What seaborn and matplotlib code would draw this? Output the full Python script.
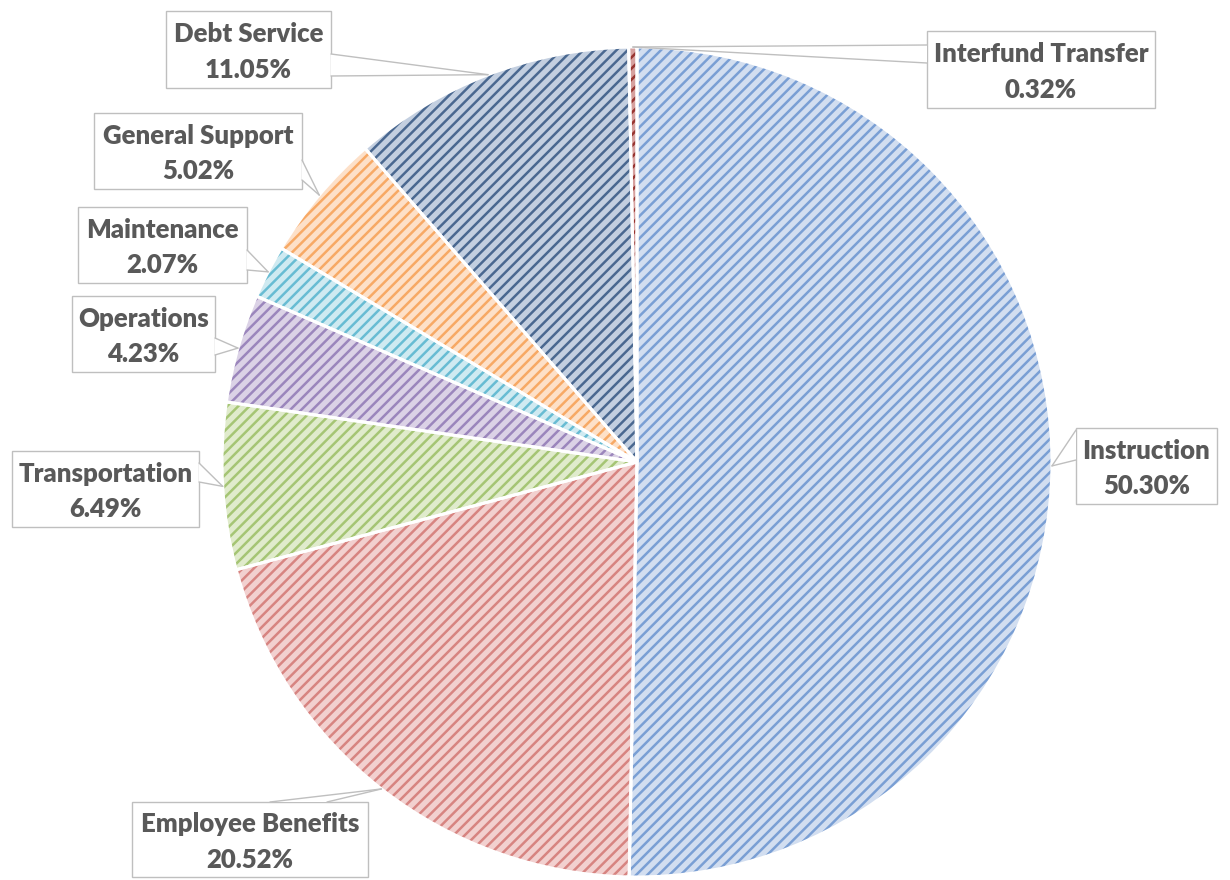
import matplotlib
matplotlib.use("Agg")
import matplotlib.pyplot as plt
import seaborn as sns
import numpy as np
from matplotlib.patches import Rectangle, Polygon
from matplotlib.lines import Line2D

# ---- data ----
categories = ["Instruction", "Employee Benefits", "Transportation", "Operations",
              "Maintenance", "General Support", "Debt Service", "Interfund Transfer"]
shares = [50.30, 20.52, 6.49, 4.23, 2.07, 5.02, 11.05, 0.32]

face_colors = ["#D2DEF0", "#F2D0CF", "#E0EBCC", "#DBD2E6", "#CFEAF1", "#FDE0C8", "#C3CFE0", "#D6A09E"]
hatch_colors = ["#7A9FD4", "#D78481", "#A5C574", "#9B86BC", "#68BCD3", "#F7A965", "#4A6890", "#983430"]

# label boxes (pixel coords, y down): x0, y0, x1, y1
boxes = {
    "Instruction": (1076, 428, 1217, 504),
    "Employee Benefits": (132, 802, 368, 877),
    "Transportation": (12, 451, 199, 527),
    "Operations": (72, 296, 215, 372),
    "Maintenance": (78, 207, 247, 283),
    "General Support": (94, 113, 302, 189),
    "Debt Service": (166, 11, 331, 88),
    "Interfund Transfer": (927, 31, 1155, 108),
}
# pointer base points on the box edge
bases = {
    "Instruction": ((1076, 430), (1076, 460)),
    "Employee Benefits": ((270, 802), (327, 802)),
    "Transportation": ((199, 463), (199, 482)),
    "Operations": ((215, 338), (215, 355)),
    "Maintenance": ((247, 250), (247, 270)),
    "General Support": ((302, 160), (302, 180)),
    "Debt Service": ((331, 54), (331, 76)),
    "Interfund Transfer": ((927, 45), (927, 63)),
}

sns.set_theme(style="white")
plt.rcParams['font.family'] = ['Lato', 'DejaVu Sans']
plt.rcParams['hatch.linewidth'] = 1.8

W, H = 1230, 880
fig = plt.figure(figsize=(W / 100, H / 100), dpi=100)
ax = fig.add_axes([0, 0, 1, 1])

cx, cy, R = 637, 462, 415
wedges, _ = ax.pie(shares, center=(cx, cy), radius=R, startangle=-90, counterclock=True,
                   colors=face_colors, wedgeprops=dict(linewidth=0))
for w, hc in zip(wedges, hatch_colors):
    w.set_hatch("///")
    w.set_edgecolor(hc)
    w.set_linewidth(0)

# white separators
ax.pie(shares, center=(cx, cy), radius=R, startangle=-90, counterclock=True,
       wedgeprops=dict(fill=False, edgecolor="white", linewidth=2.2))

ax.set_xlim(0, W)
ax.set_ylim(H, 0)
ax.set_aspect("equal")
ax.axis("off")

box_col = "#BFBFBF"
txt_col = "#595959"
for name, w, val in zip(categories, wedges, shares):
    x0, y0, x1, y1 = boxes[name]
    ax.add_patch(Rectangle((x0, y0), x1 - x0, y1 - y0, facecolor="white",
                           edgecolor=box_col, linewidth=1.0, zorder=3))
    ang = np.deg2rad((w.theta1 + w.theta2) / 2)
    tip = (cx + R * np.cos(ang), cy + R * np.sin(ang))
    b1, b2 = bases[name]
    ax.add_patch(Polygon([b1, tip, b2], closed=True, facecolor="white",
                         edgecolor="none", zorder=4))
    for b in (b1, b2):
        ax.add_line(Line2D([b[0], tip[0]], [b[1], tip[1]], color=box_col,
                           linewidth=1.0, zorder=5))
    mx, my = (x0 + x1) / 2, (y0 + y1) / 2
    ax.text(mx, my - 15, name, ha="center", va="center", fontsize=18.5,
            fontweight="heavy", color=txt_col, zorder=6)
    ax.text(mx, my + 20, f"{val:.2f}%", ha="center", va="center", fontsize=18.5,
            fontweight="heavy", color=txt_col, zorder=6)

fig.savefig("out.png", dpi=100, facecolor="white")
